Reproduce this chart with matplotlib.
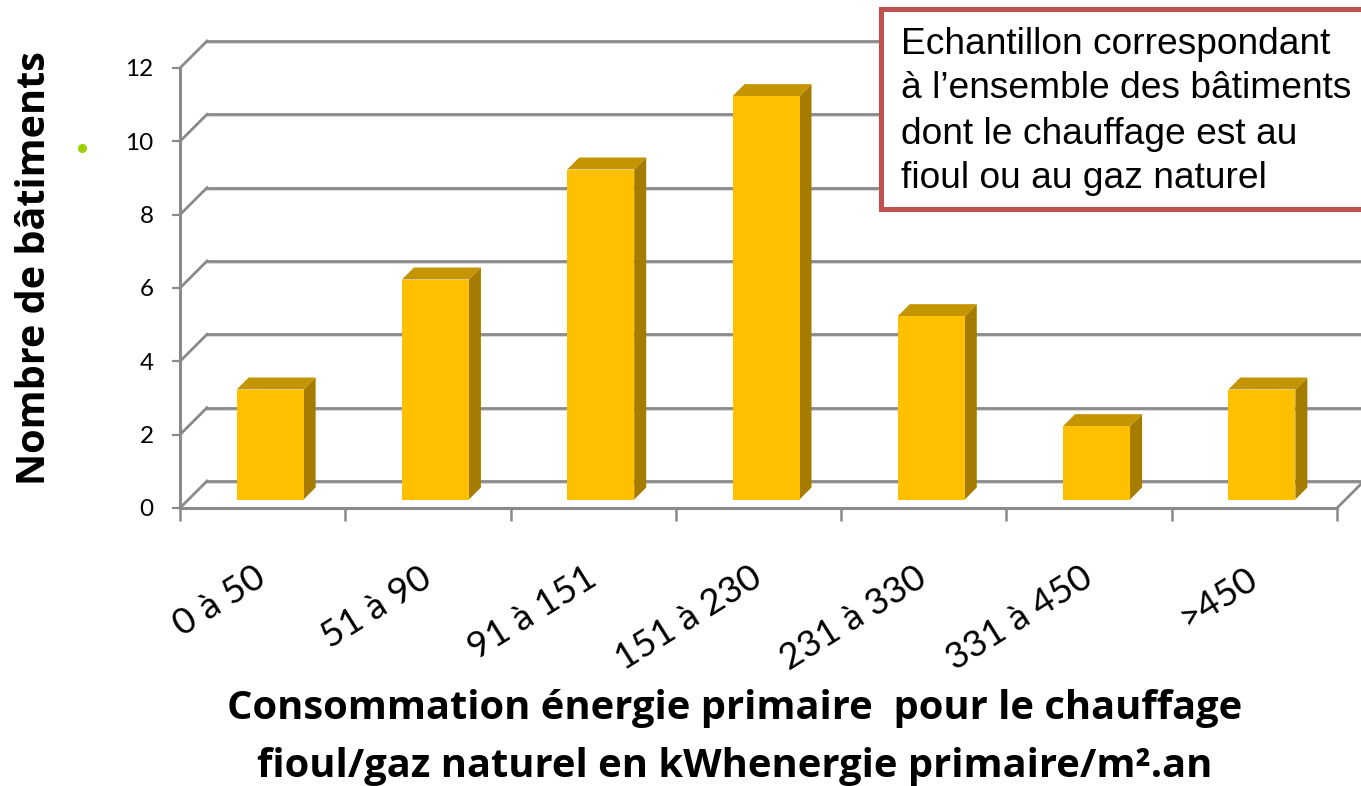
import matplotlib
matplotlib.use('Agg')
import matplotlib.pyplot as plt
from matplotlib.patches import Polygon, Rectangle

categories = ['0 à 50', '51 à 90', '91 à 151', '151 à 230', '231 à 330', '331 à 450', '>450']
values = [3, 6, 9, 11, 5, 2, 3]
y_ticks = [0, 2, 4, 6, 8, 10, 12]

W, H = 1361, 786
GRID = '#8a8a8a'
# pixels per unit on the axes
PX_X = 1157 / 7
PX_Y = 440 / 12


def fx(px):
    return px / W


def fy(px):
    return 1 - px / H


fig = plt.figure(figsize=(W / 100, H / 100), dpi=100, facecolor='white')
ax = fig.add_axes([fx(180), fy(508), 1157 / W, 440 / H])
ax.set_xlim(0, 7)
ax.set_ylim(0, 12)
ax.patch.set_visible(False)
for side in ['top', 'right']:
    ax.spines[side].set_visible(False)
for side in ['left', 'bottom']:
    ax.spines[side].set_color(GRID)
    ax.spines[side].set_linewidth(2.2)

# back wall gridlines and the slanted part on the side wall
wall_x = 27 / PX_X
wall_y = 27 / PX_Y
for v in y_ticks:
    ax.plot([wall_x, 7.2], [v + wall_y - 2 / PX_Y] * 2, color='#d8d8d8', lw=1.4, clip_on=False, zorder=1)
    ax.plot([wall_x, 7.2], [v + wall_y] * 2, color=GRID, lw=2.0, clip_on=False, zorder=1.5)
    ax.plot([0, wall_x], [v, v + wall_y], color=GRID, lw=2.0, clip_on=False, zorder=1.5)
# floor edge on the right
ax.plot([7, 7 + wall_x], [0, wall_y], color=GRID, lw=2.0, clip_on=False, zorder=1.5)

# bars with fake depth
bar_w = 67 / PX_X
off_x = 7.5 / PX_X
off_y = 8.5 / PX_Y
dep_x = 12 / PX_X
dep_y = 12 / PX_Y
for i, v in enumerate(values):
    x0 = i + 0.5 - bar_w / 2 + off_x
    x1 = x0 + bar_w
    y0 = off_y
    y1 = v + off_y
    ax.add_patch(Polygon([[x1, y0], [x1 + dep_x, y0 + dep_y], [x1 + dep_x, y1 + dep_y], [x1, y1]],
                         color='#A67C00', lw=0, zorder=3))
    ax.add_patch(Polygon([[x0, y1], [x1, y1], [x1 + dep_x, y1 + dep_y], [x0 + dep_x, y1 + dep_y]],
                         color='#C59500', lw=0, zorder=3))
    ax.add_patch(Rectangle((x0, y0), bar_w, v, color='#FFC000', lw=0, zorder=4))

ax.set_yticks(y_ticks)
ax.set_yticklabels([str(v) for v in y_ticks], fontsize=17.5, family='Lato')
ax.tick_params(axis='y', length=6, width=1.6, color=GRID, pad=13)
ax.set_xticks(range(8))
ax.set_xticklabels([])
ax.tick_params(axis='x', length=9, width=1.8, color=GRID)
ax.set_xticks([i + 0.5 for i in range(7)], minor=True)
ax.set_xticklabels(categories, minor=True, rotation=32, ha='right', va='center',
                   rotation_mode='anchor', fontsize=26.5, family='Lato')
ax.tick_params(axis='x', which='minor', length=0, pad=48)

# axis titles
fig.text(fx(35), fy(268), 'Nombre de bâtiments', rotation=90, ha='center', va='center',
         fontsize=28.5, fontweight='bold', family='Open Sans')
fig.text(fx(735), fy(709), 'Consommation énergie primaire  pour le chauffage', ha='center', va='center',
         fontsize=28.7, fontweight='bold', family='Open Sans')
fig.text(fx(735), fy(767), 'fioul/gaz naturel en kWhenergie primaire/m².an', ha='center', va='center',
         fontsize=28.7, fontweight='bold', family='Open Sans')

# stray bullet
fig.add_artist(plt.Line2D([fx(82)], [fy(148)], marker='o', ms=6.5, color='#9BD000', mew=0))

# note box
fig.add_artist(Rectangle((fx(881), fy(209)), (1400 - 881) / W, 200 / H, transform=fig.transFigure,
                         facecolor='white', edgecolor='#C0504D', lw=3.6, zorder=5))
note = ['Echantillon correspondant', 'à l’ensemble des bâtiments', 'dont le chauffage est au', 'fioul ou au gaz naturel']
for k, line in enumerate(note):
    fig.text(fx(901), fy(44 + 45 * k), line, ha='left', va='center', fontsize=26.7,
             family='Liberation Sans', zorder=6)

fig.savefig('out.png', dpi=100)
